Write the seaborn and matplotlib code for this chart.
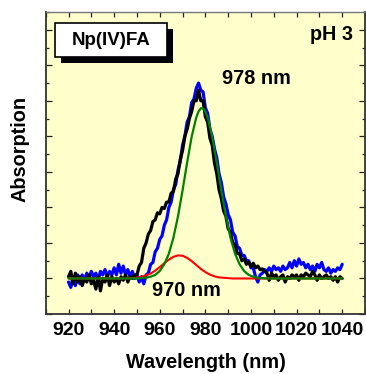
import numpy as np
import matplotlib
matplotlib.use("Agg")
import matplotlib.pyplot as plt
import seaborn as sns
from matplotlib.patches import Rectangle
from matplotlib.ticker import MultipleLocator

# measured spectra, 1 nm steps from 920 to 1040 nm
wavelength = np.arange(920, 1041)

black_spec = [
    0.05, 0.2, -0.15, 0.15, -0.1, 0.05, -0.2, 0.0, -0.1, 0.1,
    -0.15, -0.05, -0.3, 0.05, -0.35, 0.0, -0.1, 0.1, -0.2, 0.05,
    -0.1, 0.0, -0.15, 0.05, -0.05, 0.1, -0.1, 0.05, 0.0, 0.1,
    0.1, 0.35, 0.45, 0.85, 1.0, 1.25, 1.35, 1.6, 1.65, 1.85,
    1.82, 2.0, 1.97, 2.15, 2.15, 2.4, 2.45, 2.8, 2.95, 3.35,
    3.6, 4.0, 4.2, 4.5, 4.7, 5.0, 5.0, 5.3, 5.0, 5.0,
    4.55, 4.4, 3.95, 3.75, 3.25, 2.95, 2.5, 2.25, 1.9, 1.75,
    1.4, 1.3, 1.0, 0.95, 0.7, 0.7, 0.5, 0.55, 0.4, 0.47,
    0.33, 0.43, 0.3, 0.35, 0.25, 0.27, 0.2, 0.15, -0.05, 0.15,
    0.05, 0.1, -0.05, 0.05, 0.1, -0.1, 0.05, 0.0, 0.1, 0.05,
    0.1, -0.05, 0.1, 0.05, 0.15, 0.1, 0.05, 0.2, 0.1, -0.05,
    0.1, 0.0, 0.05, 0.1, 0.0, 0.05, -0.05, 0.05, -0.1, 0.05,
    0.0,
]

blue_spec = [
    -0.1, -0.25, 0.05, -0.2, 0.1, -0.15, 0.1, -0.05, 0.15, 0.0,
    0.2, 0.05, 0.15, -0.05, 0.2, 0.1, 0.25, 0.05, 0.2, 0.1,
    0.3, 0.1, 0.4, 0.15, 0.35, 0.1, 0.25, 0.05, 0.2, 0.0,
    0.1, -0.1, 0.05, -0.15, 0.1, 0.15, 0.4, 0.45, 0.75, 0.85,
    1.1, 1.2, 1.5, 1.65, 2.0, 2.15, 2.5, 2.65, 3.05, 3.3,
    3.75, 4.0, 4.4, 4.55, 4.95, 5.05, 5.35, 5.5, 5.3, 5.25,
    4.8, 4.65, 4.2, 4.0, 3.65, 3.4, 2.95, 2.7, 2.3, 2.1,
    1.8, 1.65, 1.3, 1.2, 0.9, 0.85, 0.65, 0.65, 0.5, 0.5,
    0.3, 0.3, 0.05, -0.1, 0.1, 0.15, 0.25, 0.2, 0.3, 0.2,
    0.35, 0.25, 0.3, 0.2, 0.35, 0.25, 0.3, 0.45, 0.3, 0.5,
    0.35, 0.55, 0.4, 0.45, 0.3, 0.4, 0.25, 0.35, 0.2, 0.4,
    0.3, 0.45, 0.25, 0.2, 0.3, 0.15, 0.25, 0.2, 0.3, 0.25,
    0.4,
]

# fitted components
fit978_x = [920, 950, 952, 954, 956, 958, 960, 962, 964, 966, 968, 970, 972, 974, 976, 977,
            978, 979, 980, 981, 983, 985, 987, 989, 991, 993, 995, 997, 999, 1001, 1003,
            1005, 1007, 1040]
fit978_y = [0.0, 0.0, 0.01, 0.02, 0.05, 0.10, 0.21, 0.40, 0.70, 1.15, 1.75, 2.48, 3.26, 3.99,
            4.53, 4.70, 4.79, 4.79, 4.70, 4.53, 3.99, 3.26, 2.48, 1.75, 1.15, 0.70, 0.40,
            0.21, 0.10, 0.05, 0.02, 0.01, 0.0, 0.0]

fit970_x = [920, 944, 946, 948, 950, 952, 954, 956, 958, 960, 962, 964, 966, 968, 970, 972,
            974, 976, 978, 980, 982, 984, 986, 988, 990, 992, 1040]
fit970_y = [0.0, 0.0, 0.005, 0.01, 0.02, 0.05, 0.09, 0.14, 0.22, 0.32, 0.43, 0.53, 0.61, 0.65,
            0.64, 0.58, 0.49, 0.38, 0.27, 0.18, 0.11, 0.06, 0.03, 0.02, 0.01, 0.0, 0.0]

sns.set_theme(style="ticks")
plt.rcParams['font.family'] = ['Liberation Sans', 'DejaVu Sans']
plt.rcParams['font.weight'] = 'bold'
plt.rcParams['axes.labelweight'] = 'bold'
plt.rcParams['text.color'] = 'black'
plt.rcParams['axes.labelcolor'] = 'black'
plt.rcParams['xtick.labelcolor'] = 'black'

fig = plt.figure(figsize=(3.66, 3.74), dpi=100)
ax = fig.add_axes([0.1249, 0.1604, 0.8724, 0.8075])
ax.set_facecolor('#FFFFCC')

sns.lineplot(x=wavelength, y=blue_spec, color='#0000FF', linewidth=2.3, ax=ax, zorder=1)
sns.lineplot(x=wavelength, y=black_spec, color='black', linewidth=2.3, ax=ax, zorder=2)
sns.lineplot(x=fit970_x, y=fit970_y, color='#FF0000', linewidth=1.5, ax=ax, zorder=3)
sns.lineplot(x=fit978_x, y=fit978_y, color='#008000', linewidth=1.6, ax=ax, zorder=4)

ax.set_xlim(910, 1050)
ax.set_ylim(-1, 7.5)
ax.xaxis.set_major_locator(MultipleLocator(20))
ax.xaxis.set_minor_locator(MultipleLocator(10))
ax.yaxis.set_major_locator(MultipleLocator(1))
ax.yaxis.set_minor_locator(MultipleLocator(0.5))

ax.tick_params(axis='x', which='both', direction='in', top=True, length=3.8,
               width=0.9, color='#222222', labelsize=14, pad=6, labelcolor='black')
ax.tick_params(axis='y', which='major', direction='in', right=True, length=4.3,
               width=0.9, color='#222222', labelleft=False)
ax.tick_params(axis='y', which='minor', direction='in', right=True, length=2.2,
               width=0.9, color='#222222')

for side in ['left', 'bottom', 'right']:
    ax.spines[side].set_color('#333333')
    ax.spines[side].set_linewidth(1.3)
ax.spines['top'].set_color('#777777')
ax.spines['top'].set_linewidth(1.0)

ax.set_xlabel('Wavelength (nm)', fontsize=14.3, fontweight='bold')
ax.set_ylabel('Absorption', fontsize=14.3, fontweight='bold')
ax.xaxis.set_label_coords(0.501, -0.128)
ax.yaxis.set_label_coords(-0.052, 0.545)

# label box with drop shadow
ax.add_patch(Rectangle((0.049, 0.831), 0.35, 0.1136, transform=ax.transAxes,
                       facecolor='black', edgecolor='none', zorder=5))
ax.add_patch(Rectangle((0.029, 0.850), 0.35, 0.1136, transform=ax.transAxes,
                       facecolor='white', edgecolor='black', linewidth=1.2, zorder=6))
ax.text(0.204, 0.907, 'Np(IV)FA', transform=ax.transAxes, fontsize=13.5,
        fontweight='bold', ha='center', va='center', zorder=7)

ax.text(0.9615, 0.924, 'pH 3', transform=ax.transAxes, fontsize=14.2,
        fontweight='bold', ha='right', va='center')
ax.text(0.659, 0.781, '978 nm', transform=ax.transAxes, fontsize=14.3,
        fontweight='bold', ha='center', va='center')
ax.text(0.44, 0.079, '970 nm', transform=ax.transAxes, fontsize=14.3,
        fontweight='bold', ha='center', va='center')

fig.savefig('out.png', dpi=100)
